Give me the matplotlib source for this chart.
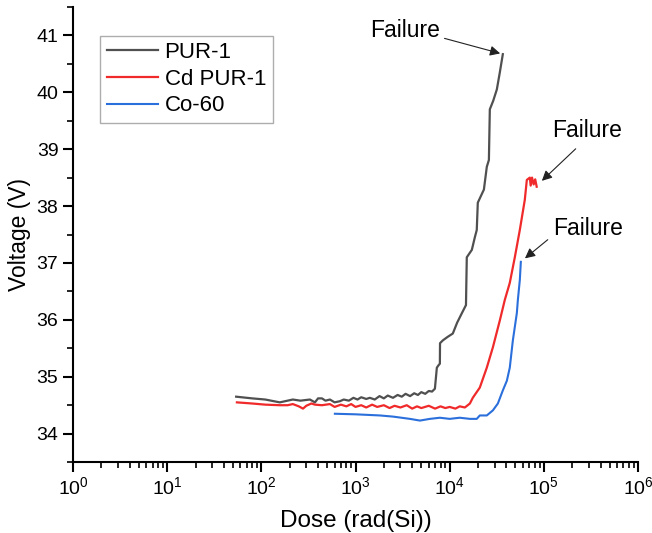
import matplotlib
matplotlib.use("Agg")
import matplotlib.pyplot as plt
from matplotlib.ticker import FixedLocator, MultipleLocator, NullFormatter

plt.rcParams['font.family'] = ['Liberation Sans', 'DejaVu Sans']
plt.rcParams['mathtext.fontset'] = 'custom'
plt.rcParams['mathtext.rm'] = 'Liberation Sans'
plt.rcParams['mathtext.it'] = 'Liberation Sans'

### données
pur_dose = [54, 80, 110, 157, 190, 216, 260, 328, 371, 400, 440, 480, 535, 600, 682, 750, 850,
            950, 1050, 1150, 1300, 1420, 1600, 1800, 2000, 2200, 2500, 2800, 3100, 3400, 3800,
            4200, 4600, 5000, 5500, 6000, 6500, 6970, 7310, 7600, 7870, 7900, 8470, 9500,
            10800, 12000, 13500, 14900, 15200, 17200, 18500, 19400, 19900, 23100, 24800,
            26100, 26700, 29000, 31700, 34100, 36700]
pur_v = [34.65, 34.62, 34.60, 34.55, 34.58, 34.60, 34.58, 34.60, 34.55, 34.62, 34.62, 34.58,
         34.60, 34.55, 34.57, 34.60, 34.58, 34.63, 34.60, 34.64, 34.61, 34.63, 34.60, 34.66,
         34.62, 34.67, 34.63, 34.68, 34.65, 34.70, 34.66, 34.71, 34.68, 34.73, 34.70, 34.75,
         34.74, 34.79, 35.16, 35.20, 35.23, 35.59, 35.64, 35.70, 35.76, 35.95, 36.12, 36.26,
         37.10, 37.23, 37.45, 37.58, 38.06, 38.29, 38.69, 38.81, 39.70, 39.85, 40.05, 40.35,
         40.67]

cd_dose = [55, 80, 110, 157, 190, 216, 250, 277, 300, 340, 371, 440, 535, 600, 700, 800, 900,
           1000, 1150, 1300, 1500, 1700, 2000, 2300, 2600, 3000, 3500, 4000, 4500, 5000, 6000,
           7000, 8000, 9000, 10000, 11500, 12800, 14500, 16400, 17600, 20900, 24800, 28800,
           34100, 38500, 43500, 49200, 55600, 62800, 66000, 71000, 72500, 75000, 78000,
           81000, 84000]
cd_v = [34.55, 34.53, 34.51, 34.50, 34.50, 34.52, 34.48, 34.44, 34.49, 34.53, 34.51, 34.50,
        34.52, 34.47, 34.51, 34.48, 34.52, 34.47, 34.50, 34.46, 34.51, 34.47, 34.50, 34.45,
        34.49, 34.46, 34.50, 34.44, 34.48, 34.45, 34.49, 34.44, 34.48, 34.45, 34.47, 34.44,
        34.48, 34.46, 34.53, 34.63, 34.81, 35.16, 35.52, 35.99, 36.35, 36.65, 37.10, 37.58,
        38.11, 38.46, 38.50, 38.36, 38.50, 38.38, 38.47, 38.34]

co_dose = [604, 1000, 1815, 2500, 3780, 4830, 6170, 7870, 10000, 12800, 16400, 19400, 20900,
           24800, 28800, 32500, 36700, 40500, 43500, 46900, 51700, 53000, 55600, 57000]
co_v = [34.35, 34.34, 34.32, 34.30, 34.26, 34.23, 34.26, 34.28, 34.26, 34.28, 34.26, 34.26,
        34.32, 34.32, 34.41, 34.53, 34.76, 34.93, 35.16, 35.64, 36.12, 36.35, 36.70, 37.02]

x_ticks = [1, 10, 100, 1000, 10000, 100000, 1000000]
x_labels = [r'$10^{0}$', r'$10^{1}$', r'$10^{2}$', r'$10^{3}$', r'$10^{4}$', r'$10^{5}$', r'$10^{6}$']

### figure
fig = plt.figure(figsize=(6.52, 5.33), dpi=100)
ax = fig.add_axes([0.112, 0.133, 0.8665, 0.854])

ax.plot(pur_dose, pur_v, color='#505050', lw=1.6, label='PUR-1')
ax.plot(cd_dose, cd_v, color='#f02a2a', lw=1.6, label='Cd PUR-1')
ax.plot(co_dose, co_v, color='#2a6fdb', lw=1.5, label='Co-60')

ax.set_xscale('log')
ax.set_xlim(1, 1e6)
ax.set_ylim(33.5, 41.5)
ax.set_xticks(x_ticks)
ax.set_xticklabels(x_labels)
minor = [m * d for d in x_ticks[:-1] for m in range(2, 10)]
ax.xaxis.set_minor_locator(FixedLocator(minor))
ax.xaxis.set_minor_formatter(NullFormatter())
ax.yaxis.set_major_locator(MultipleLocator(1))
ax.yaxis.set_minor_locator(MultipleLocator(0.5))

for s in ['top', 'right']:
    ax.spines[s].set_visible(False)
for s in ['left', 'bottom']:
    ax.spines[s].set_linewidth(1.5)
ax.tick_params(which='major', direction='out', length=7, width=1.5, labelsize=14)
ax.tick_params(which='minor', direction='out', length=4, width=1.2)

ax.set_xlabel('Dose (rad(Si))', fontsize=17.5, labelpad=8)
ax.set_ylabel('Voltage (V)', fontsize=16.5, labelpad=4)

### annotations "Failure"
arrow = dict(arrowstyle='-|>', color='#222222', lw=0.8, mutation_scale=15)
ax.annotate('', xy=(36700, 40.67), xytext=(8260, 40.96), arrowprops=arrow)
ax.text(3340, 41.09, 'Failure', fontsize=16.5, ha='center', va='center')
ax.annotate('', xy=(90700, 38.41), xytext=(229000, 39.04), arrowprops=arrow)
ax.text(286000, 39.32, 'Failure', fontsize=16.5, ha='center', va='center')
ax.annotate('', xy=(59800, 37.05), xytext=(116000, 37.44), arrowprops=arrow)
ax.text(293000, 37.61, 'Failure', fontsize=16.5, ha='center', va='center')

leg = ax.legend(loc='upper left', bbox_to_anchor=(0.048, 0.937), fontsize=16,
                fancybox=False, edgecolor='#999999', handlelength=2.3,
                borderpad=0.3, labelspacing=0.25, handletextpad=0.3, borderaxespad=0)
leg.get_frame().set_linewidth(1.0)

fig.savefig('out.png', dpi=100)
